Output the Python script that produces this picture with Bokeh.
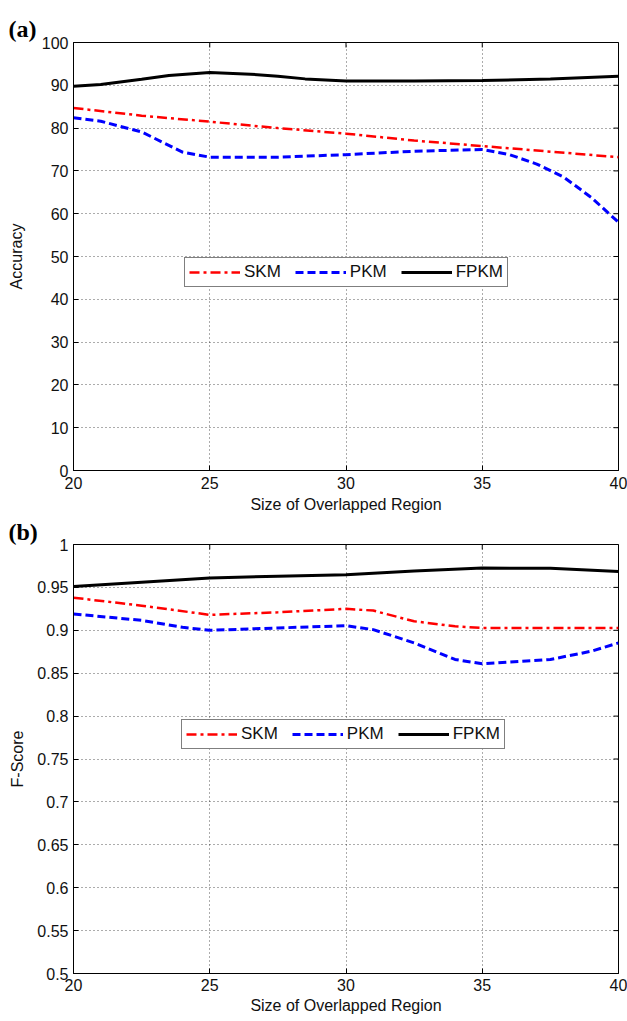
import math
from bokeh.plotting import figure
from bokeh.models import (Range1d, FixedTicker, Legend, LegendItem, Title,
                          PrintfTickFormatter)
from bokeh.layouts import column
from bokeh.embed import file_html
from bokeh.resources import INLINE

# ---------------- data ----------------
x_ticks = [20, 25, 30, 35, 40]
acc_ticks = [0, 10, 20, 30, 40, 50, 60, 70, 80, 90, 100]
f_ticks = [0.5, 0.55, 0.6, 0.65, 0.7, 0.75, 0.8, 0.85, 0.9, 0.95, 1.0]
series_names = ["SKM", "PKM", "FPKM"]

# (a) Accuracy
skm_acc_x = [20, 22.5, 25, 27.5, 30, 32.5, 35, 37.5, 40]
skm_acc = [84.7, 82.9, 81.5, 80.0, 78.7, 77.1, 75.8, 74.5, 73.2]
pkm_acc_x = [20, 21, 22.5, 24, 25, 27.5, 30, 32.5, 35, 36, 37, 38, 39, 40]
pkm_acc = [82.4, 81.6, 79.1, 74.4, 73.2, 73.2, 73.8, 74.6, 75.0, 73.8, 71.6, 68.5, 63.8, 58.0]
fpkm_acc_x = [20, 21, 22.5, 23.5, 25, 26.5, 27.5, 28.5, 30, 32.5, 35, 37.5, 40]
fpkm_acc = [89.8, 90.2, 91.4, 92.3, 93.0, 92.6, 92.1, 91.5, 91.0, 91.0, 91.1, 91.5, 92.1]

# (b) F-Score
skm_f_x = [20, 22.5, 25, 27.5, 30, 31, 32.5, 34, 35, 37.5, 40]
skm_f = [0.938, 0.9287, 0.918, 0.921, 0.925, 0.923, 0.9105, 0.9047, 0.9027, 0.9027, 0.9027]
pkm_f_x = [20, 22.5, 24, 25, 27.5, 30, 31, 32.5, 34, 35, 37.5, 39, 40]
pkm_f = [0.919, 0.9116, 0.9035, 0.900, 0.9027, 0.9054, 0.9008, 0.8853, 0.866, 0.8609, 0.866, 0.8756, 0.8853]
fpkm_f_x = [20, 22.5, 25, 27.5, 30, 32.5, 35, 37.5, 40]
fpkm_f = [0.951, 0.956, 0.961, 0.963, 0.9647, 0.969, 0.9725, 0.9722, 0.9686]

FONT = "Liberation Sans"
styles = [
    dict(line_color="#ff0000", line_width=2.5, line_dash="10 4 3 4"),
    dict(line_color="#0000ff", line_width=3, line_dash="8 4"),
    dict(line_color="#000000", line_width=3),
]


def style_axis(ax, ticks, label, tick_standoff, label_standoff):
    ax.ticker = FixedTicker(ticks=ticks)
    ax.axis_label = label
    ax.axis_line_color = "black"
    ax.major_tick_line_color = "black"
    ax.major_tick_in = 5
    ax.major_tick_out = 0
    ax.minor_tick_line_color = None
    ax.major_label_text_font = FONT
    ax.major_label_text_color = "#111111"
    ax.major_label_text_font_size = "16px"
    ax.major_label_standoff = tick_standoff
    ax.axis_label_text_font = FONT
    ax.axis_label_text_font_size = "16px"
    ax.axis_label_text_font_style = "normal"
    ax.axis_label_text_color = "#111111"
    ax.axis_label_standoff = label_standoff


def make_panel(data, yr, yticks, ylabel, tag, top, fh, bottom, leg_loc,
               x_std, x_lbl_std, y_lbl_std, title_standoff):
    p = figure(frame_width=545, frame_height=fh, output_backend="svg",
               toolbar_location=None,
               x_range=Range1d(20, 40), y_range=Range1d(*yr),
               min_border_left=73, min_border_right=9,
               min_border_top=top, min_border_bottom=bottom,
               background_fill_color="white", border_fill_color="white",
               outline_line_color="black")
    p.title = Title(text=tag, align="left", offset=-65, standoff=title_standoff,
                    text_font="Liberation Serif", text_font_style="bold",
                    text_font_size="24px", text_color="black")
    style_axis(p.xaxis[0], x_ticks, "Size of Overlapped Region", x_std, x_lbl_std)
    style_axis(p.yaxis[0], yticks, ylabel, 5, y_lbl_std)
    p.yaxis[0].formatter = PrintfTickFormatter(format="%g")

    for g in (p.xgrid[0], p.ygrid[0]):
        g.grid_line_color = "black"
        g.grid_line_alpha = 0.65
        g.grid_line_dash = "1 3"
        g.grid_line_width = 1

    # inward ticks on the right and top edges (clipped half-dashes)
    p.scatter([x_ticks[-1]] * len(yticks), yticks, marker="dash", size=10,
              line_color="black", line_width=1)
    p.scatter(x_ticks, [yticks[-1]] * len(x_ticks), marker="dash", size=10,
              angle=math.pi / 2, line_color="black", line_width=1)

    items = []
    for name, (xs, ys), st in zip(series_names, data, styles):
        r = p.line(xs, ys, **st)
        items.append(LegendItem(label=name, renderers=[r]))

    leg = Legend(items=items, orientation="horizontal", location=leg_loc,
                 glyph_width=51, glyph_height=16, label_standoff=4, spacing=14,
                 padding=4, margin=0, label_height=20,
                 label_text_font=FONT, label_text_font_size="17px",
                 label_text_color="#111111",
                 border_line_color="black", border_line_width=1,
                 background_fill_color="white", background_fill_alpha=1)
    p.add_layout(leg)
    return p


p1 = make_panel([(skm_acc_x, skm_acc), (pkm_acc_x, pkm_acc), (fpkm_acc_x, fpkm_acc)],
                (0, 100), acc_ticks, "Accuracy", "(a)",
                top=42, fh=428, bottom=46, leg_loc=(111, 183),
                x_std=6, x_lbl_std=4, y_lbl_std=14, title_standoff=2)
p2 = make_panel([(skm_f_x, skm_f), (pkm_f_x, pkm_f), (fpkm_f_x, fpkm_f)],
                (0.5, 1.0), f_ticks, "F-Score", "(b)",
                top=28, fh=429, bottom=45, leg_loc=(108, 224),
                x_std=5, x_lbl_std=3, y_lbl_std=8, title_standoff=0)

layout = column(p1, p2, spacing=0)
open("out.html", "w").write(file_html(layout, INLINE))
